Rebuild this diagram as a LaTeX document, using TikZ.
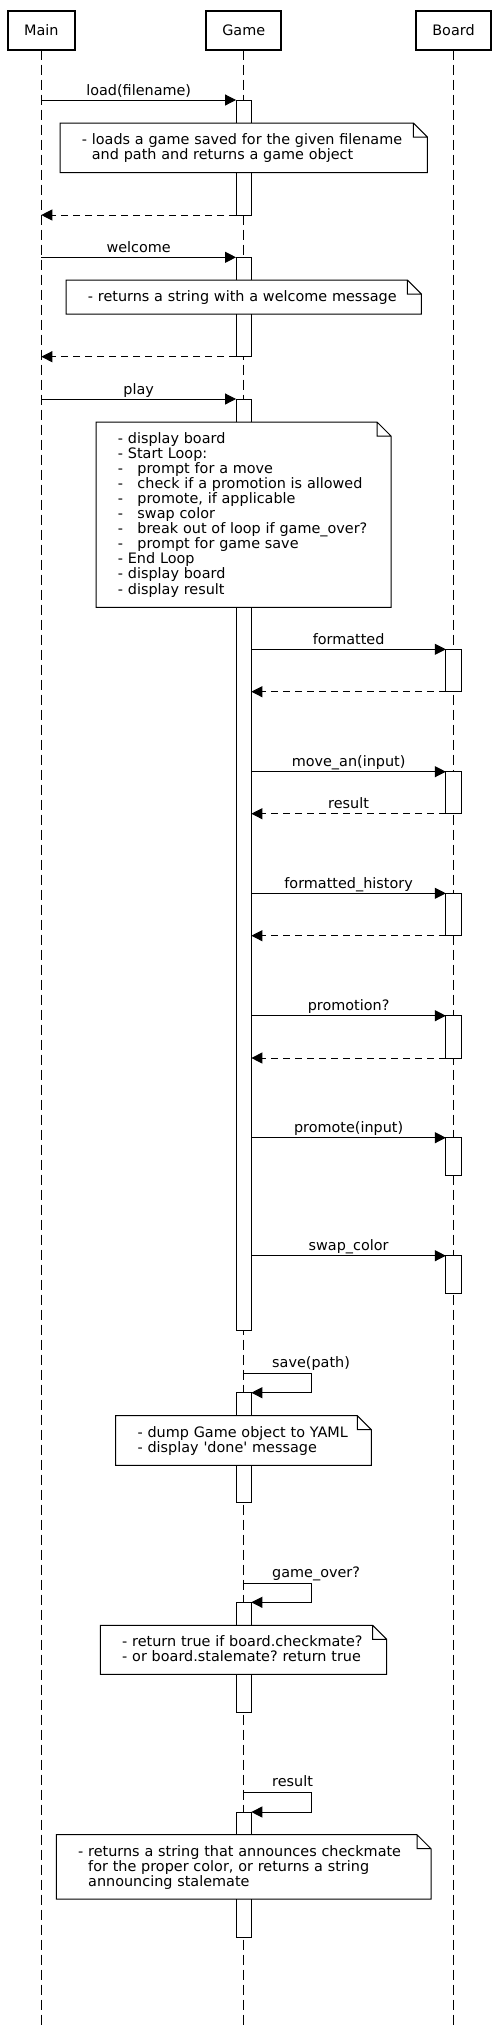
\documentclass[tikz,border=0pt]{standalone}
\usepackage{fontspec}
\setmainfont{DejaVu Sans}
\usetikzlibrary{arrows.meta}

\begin{document}
\begin{tikzpicture}[
        x=1pt, y=-1pt,
        font=\fontsize{14.4pt}{15.05pt}\selectfont\frenchspacing,
        actor/.style={rectangle, draw, line width=2pt, minimum width=75.3pt, minimum height=38.7pt, inner sep=0pt, outer sep=0pt},
        lifeline/.style={line width=1pt, dash pattern=on 10pt off 5pt},
        act/.style={rectangle, draw, line width=1pt, fill=white, minimum width=15.3pt, inner sep=0pt, outer sep=0pt, anchor=north},
        msg/.style={line width=1pt, -{Triangle[length=11pt,width=11pt]}},
        ret/.style={msg, dash pattern=on 7pt off 5pt},
        msg_label/.style={anchor=base, yshift=5pt, inner sep=0pt},
        self_label/.style={anchor=base west, xshift=28pt, yshift=5.7pt, inner sep=0pt},
        note/.style={rectangle, fill=white, inner sep=0pt, outer sep=0pt, anchor=north west},
        note_text/.style={anchor=base west, align=left, text width=360pt, inner sep=0pt}
    ]

        \useasboundingbox (0,0) rectangle (499,2027);
        \coordinate (bottom) at (0,2027);

        % Actors and lifelines
        \node[actor, minimum width=66.7pt] (main) at (41.3,30.3) {Main};
        \node[actor] (game) at (243.7,30.3) {Game};
        \node[actor] (board) at (453.5,30.3) {Board};
        \draw[lifeline] (main.south) -- (main.south |- bottom);
        \draw[lifeline] (game.south) -- (game.south |- bottom);
        \draw[lifeline] (board.south) -- (board.south |- bottom);

        % load(filename)
        \node[act, minimum height=115pt] (gact1) at (243.7,100) {};
        \draw[msg] (main |- gact1.north) -- node[msg_label] (lbl_load) {load(filename)} (gact1.north west);
        \node[note, minimum width=367.3pt, minimum height=49.7pt] (note_load) at (60,123) {};
        \node[note_text] (note_load_text) at ([shift={(21.7,21.5)}]note_load.north west)
            {- loads a game saved for the given filename\\\phantom{- }and path and returns a game object};
        \draw[ret] (gact1.south west) -- (main |- gact1.south);

        % welcome
        \node[act, minimum height=99.4pt] (gact2) at (243.7,257.3) {};
        \draw[msg] (main |- gact2.north) -- node[msg_label] (lbl_welcome) {welcome} (gact2.north west);
        \node[note, minimum width=355.3pt, minimum height=34pt] (note_welcome) at (66,280) {};
        \node[note_text] (note_welcome_text) at ([shift={(21.7,21.5)}]note_welcome.north west)
            {- returns a string with a welcome message};
        \draw[ret] (gact2.south west) -- (main |- gact2.south);

        % play
        \node[act, minimum height=931.7pt] (gact3) at (243.7,399) {};
        \draw[msg] (main |- gact3.north) -- node[msg_label] (lbl_play) {play} (gact3.north west);
        \node[note, minimum width=295pt, minimum height=185.3pt] (note_play) at (96,422) {};
        \node[note_text] (note_play_text) at ([shift={(21.7,21.5)}]note_play.north west)
            {- display board\\
             - Start Loop:\\
             -\ \ \ prompt for a move\\
             -\ \ \ check if a promotion is allowed\\
             -\ \ \ promote, if applicable\\
             -\ \ \ swap color\\
             -\ \ \ break out of loop if game\_over?\\
             -\ \ \ prompt for game save\\
             - End Loop\\
             - display board\\
             - display result};

        % calls on Board
        \node[act, minimum height=42.4pt] (bact1) at (453.5,649.3) {};
        \draw[msg] (gact3.east |- bact1.north) -- node[msg_label] (lbl_formatted) {formatted} (bact1.north west);
        \draw[ret] (bact1.south west) -- (gact3.east |- bact1.south);

        \node[act, minimum height=42pt] (bact2) at (453.5,771.7) {};
        \draw[msg] (gact3.east |- bact2.north) -- node[msg_label] (lbl_move) {move\_an(input)} (bact2.north west);
        \draw[ret] (bact2.south west) -- node[msg_label] (lbl_result) {result} (gact3.east |- bact2.south);

        \node[act, minimum height=42.4pt] (bact3) at (453.5,893.3) {};
        \draw[msg] (gact3.east |- bact3.north) -- node[msg_label] (lbl_history) {formatted\_history} (bact3.north west);
        \draw[ret] (bact3.south west) -- (gact3.east |- bact3.south);

        \node[act, minimum height=42.3pt] (bact4) at (453.5,1015.7) {};
        \draw[msg] (gact3.east |- bact4.north) -- node[msg_label] (lbl_promotion) {promotion?} (bact4.north west);
        \draw[ret] (bact4.south west) -- (gact3.east |- bact4.south);

        \node[act, minimum height=38pt] (bact5) at (453.5,1137.7) {};
        \draw[msg] (gact3.east |- bact5.north) -- node[msg_label] (lbl_promote) {promote(input)} (bact5.north west);

        \node[act, minimum height=37.6pt] (bact6) at (453.5,1255.7) {};
        \draw[msg] (gact3.east |- bact6.north) -- node[msg_label] (lbl_swap) {swap\_color} (bact6.north west);

        % save(path)
        \coordinate (save_from) at (243.7,1373);
        \node[act, minimum height=110pt] (gact4) at (243.7,1392.7) {};
        \draw[msg] (save_from) node[self_label] (lbl_save) {save(path)} -- ++(68,0) |- (gact4.north east);
        \node[note, minimum width=255.6pt, minimum height=49.6pt] (note_save) at (115.7,1415.7) {};
        \node[note_text] (note_save_text) at ([shift={(21.7,21.5)}]note_save.north west)
            {- dump Game object to YAML\\- display \textquotesingle done\textquotesingle{} message};

        % game_over?
        \coordinate (over_from) at (243.7,1583);
        \node[act, minimum height=110pt] (gact5) at (243.7,1602.3) {};
        \draw[msg] (over_from) node[self_label] (lbl_over) {game\_over?} -- ++(68,0) |- (gact5.north east);
        \node[note, minimum width=286.4pt, minimum height=49pt] (note_over) at (100.3,1625.3) {};
        \node[note_text] (note_over_text) at ([shift={(21.7,21.5)}]note_over.north west)
            {- return true if board.checkmate?\\- or board.stalemate? return true};

        % result
        \coordinate (result_from) at (243.7,1792.3);
        \node[act, minimum height=125pt] (gact6) at (243.7,1812) {};
        \draw[msg] (result_from) node[self_label] (lbl_self_result) {result} -- ++(68,0) |- (gact6.north east);
        \node[note, minimum width=374.7pt, minimum height=64.3pt] (note_result) at (56.3,1834.7) {};
        \node[note_text] (note_result_text) at ([shift={(21.7,21.5)}]note_result.north west)
            {- returns a string that announces checkmate\\
             \phantom{- }for the proper color, or returns a string\\
             \phantom{- }announcing stalemate};

        % note outlines with folded corner
        \foreach \n in {note_load, note_welcome, note_play, note_save, note_over, note_result}
            \draw[line width=1pt] (\n.north west) -- ([xshift=-14pt]\n.north east) -- ([yshift=-14pt]\n.north east)
                -- (\n.south east) -- (\n.south west) -- cycle
                ([xshift=-14pt]\n.north east) |- ([yshift=-14pt]\n.north east);

    \end{tikzpicture}
\end{document}
